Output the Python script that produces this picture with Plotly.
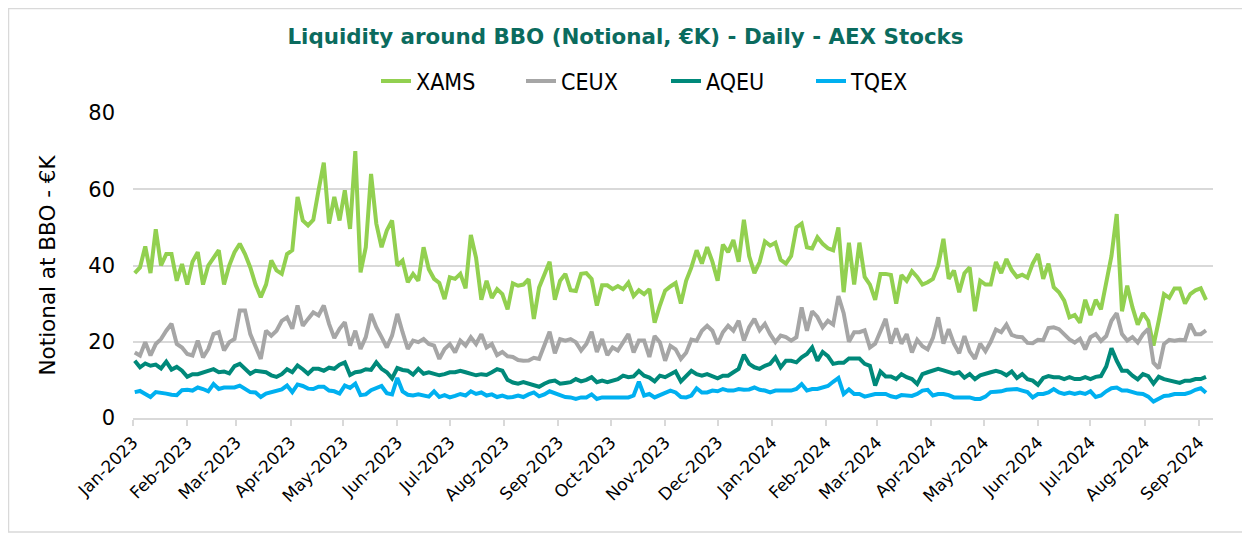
import pandas as pd
import plotly.graph_objects as go

# Trading-day samples (every 3 calendar days)
dates = pd.date_range("2023-01-02", periods=205, freq="3D")

xams = [
    38, 39.5, 45, 38, 49.5, 40, 43, 43, 36, 40.4,
    35, 41, 43.5, 35, 40, 42, 44, 35, 40, 43.5,
    45.7, 43, 39.5, 35, 31.7, 35, 41.3, 38.7, 37.8, 43,
    44, 58, 51.8, 50.5, 52, 59.7, 67, 51, 58, 51.8,
    59.7, 49.6, 70, 38.2, 44.8, 64, 51, 44.8, 49.2, 51.8,
    40, 41.3, 35.6, 37.8, 36, 44.8, 39, 36.5, 35.4, 31.2,
    36.9, 36.5, 37.8, 34, 48, 42, 31, 36, 31.5, 33.8,
    32.5, 28.5, 35.3, 34.7, 35, 36.4, 26, 34.2, 37.3, 41,
    31, 36, 37.8, 33.5, 33.3, 37.8, 38, 36.5, 29.5, 34.8,
    34.8, 33.8, 34.6, 33.8, 35.5, 32, 33.5, 32.5, 33.8, 25,
    29.5, 33.4, 34.5, 35.4, 30, 36, 39.5, 44, 40.5, 44.8,
    41, 36, 45.5, 43.5, 46.7, 41, 52, 42.5, 38, 40.9,
    46.3, 45.2, 46, 41.5, 40.5, 42.5, 50, 51, 44.8, 44.5,
    47.4, 45.7, 44.5, 44, 50, 33, 46, 35, 46, 37,
    35, 31, 37.8, 37.8, 37.5, 30, 37.5, 36, 38.5, 37,
    35, 35.6, 36.5, 40, 47, 36.5, 38.7, 33, 38, 39.5,
    28, 36, 35, 35, 40.9, 38, 41.7, 38.8, 37, 37.6,
    36.8, 40.5, 43, 36.5, 40.5, 34.3, 33, 30.8, 26.4, 27,
    25, 31, 27, 31, 28.5, 35, 42.5, 53.5, 28, 34.7,
    29, 24.5, 27.5, 25.5, 19, 25.5, 32.5, 31.5, 34, 34,
    30, 32.5, 33.5, 34, 31,
]

ceux = [
    17.2, 16.4, 19.9, 16.4, 19.4, 20.7, 22.9, 24.7, 19.4, 18.5,
    16.8, 16.4, 20.3, 15.9, 18.1, 22, 22.5, 17.7, 19.9, 20.7,
    28.2, 28.2, 22, 19, 15.5, 22.9, 21.6, 22.9, 25.5, 26.4,
    23.4, 29.5, 24.2, 26, 27.7, 26.9, 29.5, 24.7, 21, 23.4,
    25.1, 19, 22.9, 18.1, 21.2, 27.3, 23.8, 21.2, 18.5, 21.6,
    27.3, 22.5, 18.1, 20.3, 19.9, 20.7, 19.4, 19, 15.5, 18.1,
    19.4, 17.2, 20.3, 19, 21.2, 19.4, 22, 18.5, 19.4, 16.5,
    17.3, 16.2, 16, 15.2, 15, 15.1, 15.8, 15.5, 19.4, 22.6,
    17, 20.7, 20.3, 20.7, 19.9, 17.7, 19.4, 22.6, 17.3, 20.7,
    16.5, 18.5, 17.7, 19.8, 22, 17.2, 20.3, 20.3, 16, 21.5,
    19.9, 15, 18.9, 18, 15.5, 17.1, 20.6, 20.3, 22.9, 24.2,
    22.9, 19.4, 22.5, 24.2, 22.9, 25.5, 20.3, 23.8, 26, 23,
    24.7, 22, 19.9, 21.6, 21.2, 20.3, 21.2, 29, 22.9, 28,
    26.5, 23.8, 25.5, 24.5, 32, 27.5, 20, 22.5, 22.5, 23,
    18.5, 19.5, 22.5, 26, 19.5, 23.5, 19.5, 22, 17.2, 20.5,
    18.8, 18, 21, 26.4, 19.5, 23.3, 19.5, 17, 21.5, 17.5,
    15.5, 19.5, 17.5, 20, 23.2, 22.5, 24.5, 21.8, 21.3, 21.2,
    19.7, 19.6, 20.5, 20.4, 23.6, 23.8, 23.3, 21.9, 20.6, 19.8,
    20.8, 18, 21.2, 22, 20.2, 21.5, 25.5, 27.5, 22, 20.3,
    21.2, 19.8, 22, 23.4, 14.5, 13, 19.4, 20.5, 20.3, 20.5,
    20.4, 24.7, 22, 22, 23,
]

aqeu = [
    15.0, 13.3, 14.3, 13.7, 14.0, 13.0, 14.8, 12.7, 13.4, 12.4,
    10.8, 11.5, 11.5, 12.0, 12.4, 12.8, 12.0, 12.2, 11.7, 13.6,
    14.2, 13.0, 11.6, 12.4, 12.3, 12.0, 11.2, 10.8, 11.5, 12.8,
    12.0, 13.8, 12.8, 11.6, 12.9, 12.9, 12.4, 13.2, 12.9, 14.0,
    14.6, 11.3, 12.0, 12.2, 12.8, 12.6, 14.6, 12.9, 12.0, 10.4,
    13.1, 12.6, 12.4, 11.4, 12.9, 11.6, 12.0, 11.5, 11.2, 11.5,
    12.0, 12.0, 12.4, 12.0, 11.5, 11.2, 11.5, 11.3, 12.0, 12.8,
    12.4, 10.0, 9.3, 9.0, 9.4, 9.0, 8.6, 8.2, 9.0, 9.6,
    9.8, 9.0, 9.2, 9.4, 10.2, 9.6, 10.0, 10.7, 9.4, 9.8,
    9.4, 9.8, 10.2, 11.1, 10.7, 10.9, 12.3, 11.1, 10.6, 9.6,
    11.1, 10.7, 11.5, 12.2, 9.6, 11.1, 12.4, 11.5, 11.1, 11.5,
    10.9, 10.4, 11.1, 11.1, 12.0, 12.9, 16.6, 14.2, 13.3, 12.9,
    13.7, 14.2, 15.9, 13.3, 15.0, 15.0, 14.6, 15.9, 16.8, 18.5,
    15.0, 17.3, 16.2, 14.2, 14.5, 14.5, 15.6, 15.5, 15.6, 14.2,
    13.7, 8.5, 12.2, 10.9, 10.9, 10.2, 11.5, 10.7, 10.2, 8.9,
    11.5, 12.0, 12.4, 12.9, 12.5, 12.0, 11.6, 12.0, 10.6, 11.5,
    10.2, 11.2, 11.5, 12.0, 12.4, 12.0, 11.2, 12.2, 10.5, 11.5,
    10.2, 9.8, 8.7, 10.5, 11.0, 10.7, 10.7, 10.2, 10.7, 10.2,
    10.2, 10.7, 10.2, 10.8, 11.0, 13.5, 18.3, 15.0, 12.4, 12.4,
    11.1, 10.1, 11.5, 11.0, 9.0, 10.8, 10.2, 9.8, 9.4, 9.2,
    9.8, 9.8, 10.2, 10.2, 10.8,
]

tqex = [
    6.8, 7.1, 6.3, 5.5, 6.8, 6.7, 6.4, 6.1, 6.0, 7.3,
    7.4, 7.2, 8.0, 7.6, 7.0, 8.9, 7.6, 8.0, 8.0, 8.0,
    8.5, 7.7, 6.8, 6.7, 5.5, 6.4, 6.7, 7.1, 7.5, 8.5,
    6.8, 8.8, 8.4, 7.7, 7.6, 8.2, 8.2, 7.2, 7.0, 6.4,
    8.5, 7.9, 9.0, 6.0, 6.2, 7.3, 7.8, 8.4, 6.5, 6.2,
    10.5, 7.0, 6.1, 5.9, 6.2, 5.9, 5.6, 7.0, 5.5, 6.0,
    5.4, 5.8, 6.3, 5.9, 7.0, 6.3, 6.7, 5.9, 6.2, 5.5,
    5.9, 5.4, 5.5, 5.9, 5.5, 6.2, 6.7, 5.7, 6.2, 7.0,
    6.5, 5.9, 5.5, 5.4, 5.0, 5.4, 5.4, 6.2, 5.0, 5.4,
    5.4, 5.4, 5.4, 5.4, 5.4, 5.9, 9.5, 5.9, 6.3, 5.4,
    6.0, 6.7, 7.2, 6.7, 5.5, 5.4, 5.9, 7.8, 6.7, 6.7,
    7.2, 7.0, 7.6, 7.2, 7.2, 7.6, 7.4, 7.5, 8.0, 7.4,
    7.2, 6.7, 7.2, 7.2, 7.2, 7.2, 7.6, 8.9, 7.2, 7.6,
    7.6, 8.0, 8.4, 9.5, 10.5, 6.3, 7.5, 6.3, 6.3, 5.6,
    6.0, 6.3, 6.3, 6.3, 5.7, 5.4, 6.0, 6.0, 5.8, 6.3,
    7.2, 7.4, 5.9, 6.3, 6.3, 6.0, 5.4, 5.4, 5.4, 5.4,
    5.0, 5.0, 5.6, 6.8, 6.9, 7.0, 7.4, 7.4, 7.6, 7.2,
    6.8, 5.4, 6.3, 6.3, 6.7, 7.6, 6.7, 6.3, 6.7, 6.3,
    6.7, 6.3, 7.0, 5.5, 5.9, 7.0, 7.8, 8.0, 7.2, 7.2,
    6.7, 6.4, 6.3, 5.6, 4.3, 5.2, 5.8, 5.9, 6.3, 6.3,
    6.3, 6.7, 7.4, 7.8, 6.6,
]

series_names = ["XAMS", "CEUX", "AQEU", "TQEX"]
series_values = [xams, ceux, aqeu, tqex]
series_colors = ["#92D050", "#A6A6A6", "#00897A", "#00B0F0"]

FONT = "DejaVu Sans, Verdana, sans-serif"
LEGEND_FONT = "DejaVu Sans Condensed, DejaVu Sans, sans-serif"

fig = go.Figure()
for name, vals, color in zip(series_names, series_values, series_colors):
    fig.add_trace(go.Scatter(
        x=dates, y=vals, name=name, mode="lines",
        line=dict(color=color, width=4),
    ))

# the page adds an 8px body margin, so the figure is 8px smaller than the window
W, H = 1242, 526
ML, MR, MT, MB = 125, 37, 105, 116
PW, PH = W - ML - MR, H - MT - MB

fig.update_layout(
    width=W, height=H, autosize=False,
    margin=dict(l=ML, r=MR, t=MT, b=MB, autoexpand=False),
    paper_bgcolor="white", plot_bgcolor="white",
    font=dict(family=FONT, color="#000000", size=20),
    title=dict(
        text="<b>Liquidity around BBO (Notional, €K) - Daily - AEX Stocks</b>",
        x=617.5 / W, xanchor="center",
        y=1 - 29 / H, yanchor="middle",
        font=dict(family=FONT, size=21.4, color="#0B6B5E"),
    ),
    legend=dict(
        orientation="h", x=(368 - ML) / PW, xanchor="left",
        y=1 + 32 / PH, yanchor="middle",
        font=dict(family=LEGEND_FONT, size=23, color="#000000"),
        entrywidth=100, entrywidthmode="pixels",
        bgcolor="rgba(0,0,0,0)",
    ),
    showlegend=True,
)

fig.update_xaxes(
    type="date",
    range=["2023-01-01", "2024-09-09"],
    dtick="M1", tick0="2023-01-01",
    tickformat="%b-%Y", tickangle=-45,
    tickfont=dict(family=FONT, size=17, color="#000000"),
    showgrid=False, zeroline=False,
    showline=True, linecolor="#D9D9D9", linewidth=1.5,
    ticks="outside", ticklen=6, tickcolor="#D9D9D9", tickwidth=1.5,
)

fig.update_yaxes(
    range=[0, 80], dtick=20, tick0=0,
    showgrid=True, gridcolor="#D9D9D9", gridwidth=1.5,
    zeroline=False, showline=False,
    ticks="", ticklabelstandoff=17,
    tickfont=dict(family=FONT, size=21, color="#000000"),
    title=dict(text="Notional at BBO - €K", standoff=26,
               font=dict(family=FONT, size=21.5, color="#000000")),
)

# thin outer frame around the whole chart
fig.add_shape(
    type="rect", xref="paper", yref="paper",
    x0=(0.5 - ML) / PW, x1=(W - 2 - ML) / PW,
    y0=1 - (H - 2 - MT) / PH, y1=1 - (0.5 - MT) / PH,
    line=dict(color="#D9D9D9", width=1.5), fillcolor="rgba(0,0,0,0)",
    layer="below",
)

fig.write_html("out.html")
